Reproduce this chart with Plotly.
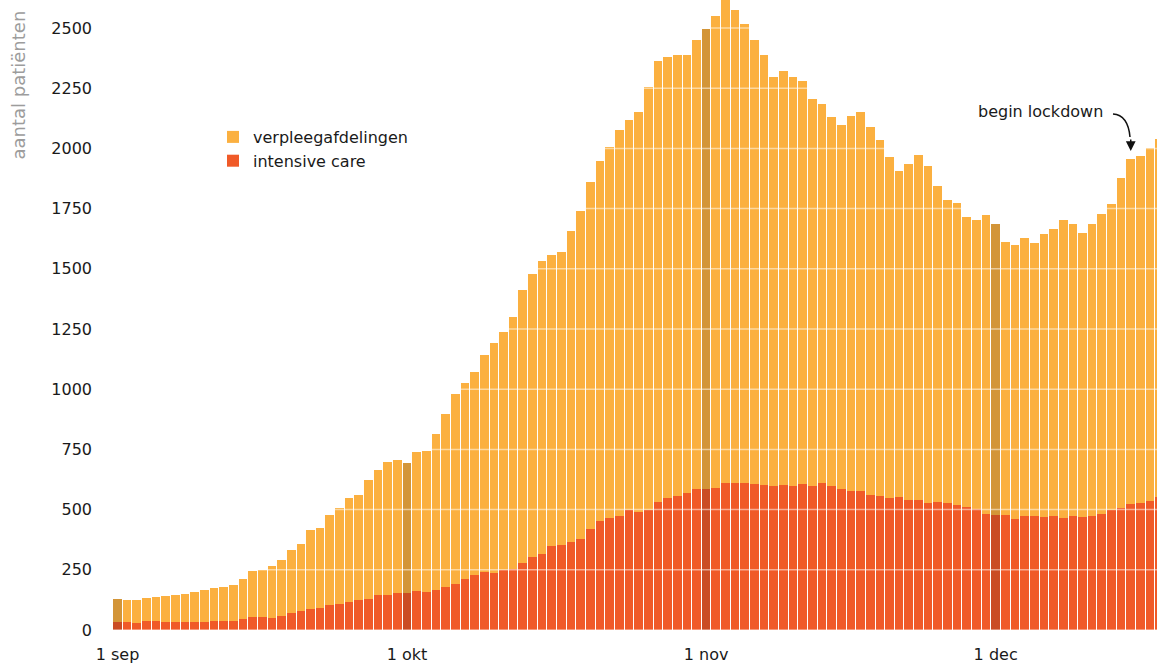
import pandas as pd
import plotly.graph_objects as go

# ---- data ----
start_date = "2020-09-01"
n_days = 109

intensive_care = [
    33, 33, 28, 37, 37, 33, 33, 33, 33, 33,
    37, 37, 37, 46, 54, 54, 50, 58, 71, 79,
    87, 91, 104, 108, 116, 125, 129, 145, 145, 153,
    153, 162, 158, 166, 178, 191, 212, 228, 241, 237,
    249, 253, 278, 303, 316, 349, 353, 365, 378, 419,
    453, 465, 473, 498, 490, 500, 532, 548, 556, 569,
    585, 585, 590, 610, 610, 610, 606, 602, 598, 602,
    598, 606, 598, 610, 598, 585, 577, 577, 561, 556,
    548, 552, 540, 540, 527, 532, 527, 519, 511, 502,
    482, 477, 477, 461, 473, 473, 469, 473, 465, 473,
    469, 473, 482, 498, 506, 523, 527, 536, 552,
]

verpleegafdelingen = [
    96, 92, 97, 96, 100, 108, 112, 117, 125, 133,
    137, 141, 150, 166, 191, 195, 216, 233, 261, 278,
    328, 331, 374, 397, 431, 436, 494, 519, 553, 553,
    540, 577, 585, 648, 719, 789, 814, 843, 901, 955,
    988, 1047, 1134, 1175, 1216, 1208, 1217, 1292, 1362, 1441,
    1495, 1539, 1603, 1620, 1661, 1755, 1831, 1832, 1832, 1819,
    1865, 1911, 1960, 2010, 1965, 1907, 1844, 1786, 1699, 1719,
    1699, 1674, 1607, 1574, 1532, 1512, 1557, 1574, 1528, 1479,
    1416, 1354, 1395, 1433, 1400, 1312, 1259, 1254, 1204, 1201,
    1241, 1209, 1134, 1138, 1155, 1134, 1175, 1192, 1238, 1213,
    1180, 1213, 1246, 1271, 1371, 1433, 1441, 1466, 1487,
]

y_ticks = [0, 250, 500, 750, 1000, 1250, 1500, 1750, 2000, 2250, 2500]
x_tick_dates = ["2020-09-01", "2020-10-01", "2020-11-01", "2020-12-01"]
x_tick_labels = ["1 sep", "1 okt", "1 nov", "1 dec"]

lockdown_date = "2020-12-15"
lockdown_label = "begin lockdown"

# ---- styling ----
ORANGE, ORANGE_DARK = "#FBB040", "#D39538"
RED, RED_DARK = "#F05A28", "#CA4C24"
FONT = "DejaVu Sans"

dates = pd.date_range(start_date, periods=n_days, freq="D")
month_start = [d.day == 1 for d in dates]
col_ward = [ORANGE_DARK if m else ORANGE for m in month_start]
col_ic = [RED_DARK if m else RED for m in month_start]

fig = go.Figure()
fig.add_trace(go.Bar(x=dates, y=intensive_care, name="intensive care", showlegend=False,
                     marker=dict(color=col_ic, line=dict(width=0))))
fig.add_trace(go.Bar(x=dates, y=verpleegafdelingen, name="verpleegafdelingen", showlegend=False,
                     marker=dict(color=col_ward, line=dict(width=0))))
# legend entries with the plain series colours
fig.add_trace(go.Bar(x=[None], y=[None], name="verpleegafdelingen",
                     marker=dict(color=ORANGE, line=dict(width=0))))
fig.add_trace(go.Bar(x=[None], y=[None], name="intensive care",
                     marker=dict(color=RED, line=dict(width=0))))

t0 = pd.Timestamp(start_date)
x_range = [str(t0 + pd.Timedelta(days=-0.466)), str(t0 + pd.Timedelta(days=107.72))]

W, H = 1157, 665
ML, MB = 113, 35
PW, PH = W - ML, H - MB

def px_x(p):
    return (p - ML) / PW

def px_y(p):
    return 1 - p / PH

shapes = []
for v in y_ticks:
    shapes.append(dict(type="line", xref="paper", yref="y", x0=0, x1=1, y0=v, y1=v,
                       line=dict(color="rgba(255,255,255,0.5)", width=1.5), layer="above"))

# curved arrow shaft for the lockdown note
shapes.append(dict(type="path", xref="paper", yref="paper",
                   path=f"M {px_x(1113)},{px_y(114)} Q {px_x(1128)},{px_y(115)} {px_x(1130)},{px_y(137)}",
                   line=dict(color="#111", width=1.5), layer="above"))

lock_idx = list(dates).index(pd.Timestamp(lockdown_date))
lock_total = intensive_care[lock_idx] + verpleegafdelingen[lock_idx]

annotations = [
    dict(text="aantal patiënten", xref="paper", yref="paper", x=px_x(18), y=px_y(9),
         xanchor="center", yanchor="top", textangle=-90, showarrow=False,
         font=dict(family=FONT, size=18, color="#9c9c9c")),
    dict(text=lockdown_label, xref="paper", yref="paper", x=px_x(1040), y=px_y(111),
         xanchor="center", yanchor="middle", showarrow=False,
         font=dict(family=FONT, size=16, color="#1a1a1a")),
    dict(text=" ", x=dates[lock_idx], y=lock_total, xref="x", yref="y",
         showarrow=True, arrowhead=2, arrowsize=1.3, arrowwidth=1.5, arrowcolor="#111",
         ax=0, ay=-22, standoff=8, font=dict(size=2)),
]

fig.update_layout(
    width=W, height=H,
    margin=dict(l=ML, r=0, t=0, b=MB),
    paper_bgcolor="white", plot_bgcolor="white",
    barmode="stack", bargap=0.1,
    font=dict(family=FONT, size=16, color="#1a1a1a"),
    showlegend=True,
    legend=dict(x=px_x(213), y=px_y(120), xanchor="left", yanchor="top",
                traceorder="normal", itemsizing="constant",
                bgcolor="rgba(0,0,0,0)", font=dict(family=FONT, size=16, color="#1a1a1a"),
                tracegroupgap=0),
    xaxis=dict(type="date", range=x_range, showgrid=False, zeroline=False, showline=False,
               tickvals=x_tick_dates, ticktext=x_tick_labels, ticks="",
               ticklabelstandoff=13, tickfont=dict(family=FONT, size=16, color="#1a1a1a")),
    yaxis=dict(range=[0, PH / 0.2408], showgrid=False, zeroline=False, showline=False,
               tickvals=y_ticks, ticktext=[str(v) for v in y_ticks], ticks="",
               ticklabelstandoff=20, tickfont=dict(family=FONT, size=16, color="#1a1a1a")),
    shapes=shapes,
    annotations=annotations,
)

fig.write_html("out.html", config={"displayModeBar": False},
               post_script="document.body.style.margin='0px';document.body.style.overflow='hidden';")
